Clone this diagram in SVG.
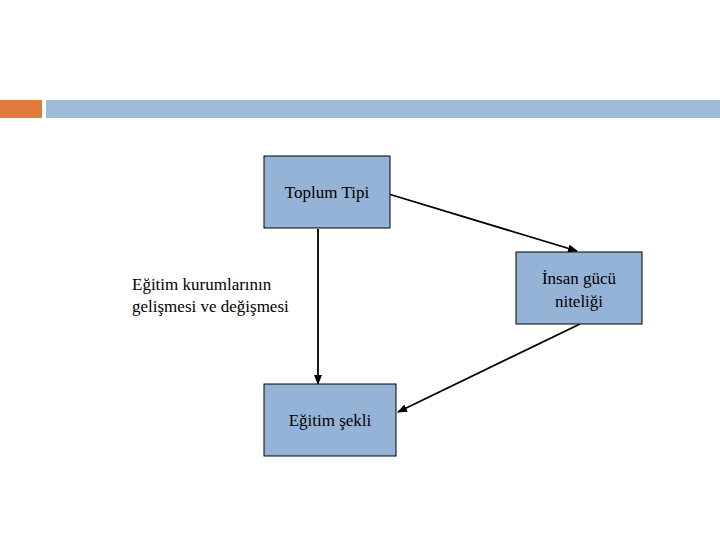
<svg xmlns="http://www.w3.org/2000/svg" width="720" height="540" viewBox="0 0 720 540">
<style>
.box{fill:#95b3d7;stroke:#000;stroke-width:1}
text{font-family:"Liberation Serif",serif;font-size:17px;fill:#000}
.c{text-anchor:middle}
.ln{stroke:#000;stroke-width:1.8;fill:none;marker-end:url(#a)}
</style>
<defs><marker id="a" markerWidth="10" markerHeight="8" refX="9" refY="4" orient="auto" markerUnits="userSpaceOnUse"><path d="M0,0L10,4L0,8z" fill="#000"/></marker></defs>
<rect x="0" y="100" width="42" height="18" fill="#e07b3c"/>
<rect x="46" y="100" width="674" height="18" fill="#9dbbd6"/>
<g id="connectors">
<line class="ln" x1="382" y1="192" x2="577" y2="251"/>
<line class="ln" x1="318" y1="229" x2="318" y2="384"/>
<line class="ln" x1="580" y1="324" x2="398" y2="412"/>
</g>
<g id="toplum"><rect class="box" x="264" y="156" width="126" height="72"/><text class="c" x="327" y="198">Toplum Tipi</text></g>
<g id="insan"><rect class="box" x="516" y="252" width="126" height="72"/><text class="c" x="579" y="284">İnsan gücü</text><text class="c" x="579" y="307">niteliği</text></g>
<g id="egitim"><rect class="box" x="264" y="384" width="132" height="72"/><text class="c" x="330" y="426">Eğitim şekli</text></g>
<g id="label"><text x="132" y="290">Eğitim kurumlarının</text><text x="132" y="312">gelişmesi ve değişmesi</text></g>
</svg>
